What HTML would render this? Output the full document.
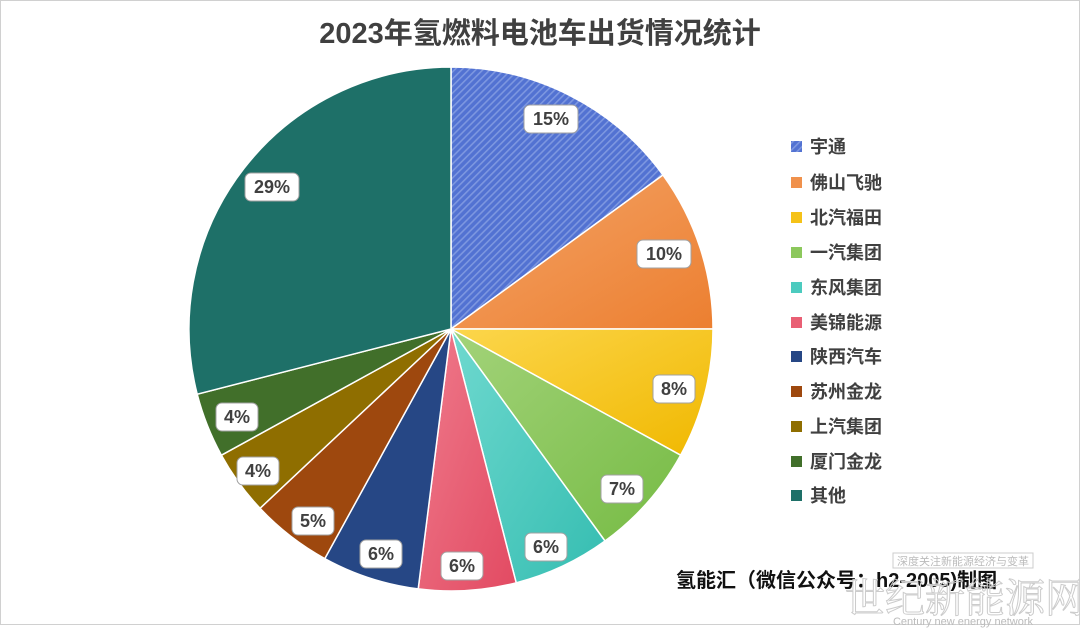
<!DOCTYPE html>
<html><head><meta charset="utf-8"><style>
body{margin:0;background:#fff;}
svg{display:block;font-family:"Liberation Sans","Noto Sans CJK SC",sans-serif;}
</style></head><body>
<svg width="1080" height="629" viewBox="0 0 1080 629">
<defs>
<pattern id="h" width="5" height="5" patternUnits="userSpaceOnUse" patternTransform="rotate(45)">
<rect width="5" height="5" fill="#5272d2"/><rect width="1.6" height="5" fill="#7d97e0"/></pattern>
<linearGradient id="g1" x1="0" y1="0" x2="1" y2="1"><stop offset="0" stop-color="#f4a468"/><stop offset="1" stop-color="#ec7f30"/></linearGradient>
<linearGradient id="g2" x1="0" y1="0" x2="1" y2="1"><stop offset="0" stop-color="#fcd64c"/><stop offset="1" stop-color="#f0b800"/></linearGradient>
<linearGradient id="g3" x1="0" y1="0" x2="1" y2="1"><stop offset="0" stop-color="#a3d37a"/><stop offset="1" stop-color="#76bb44"/></linearGradient>
<linearGradient id="g4" x1="0" y1="0" x2="1" y2="1"><stop offset="0" stop-color="#6fd9cf"/><stop offset="1" stop-color="#35bdb1"/></linearGradient>
<linearGradient id="g5" x1="0" y1="0" x2="1" y2="1"><stop offset="0" stop-color="#ef7b8c"/><stop offset="1" stop-color="#e24a62"/></linearGradient>
</defs>
<rect x="0.5" y="0.5" width="1079" height="624" fill="#fff" stroke="#d0d0d0"/>
<text x="540" y="43" text-anchor="middle" font-size="29" font-weight="bold" fill="#404040">2023年氢燃料电池车出货情况统计</text>
<g stroke="#fff" stroke-width="1.5">
<path d="M451,329 L451,67 A262,262 0 0 1 663,175 Z" fill="url(#h)"/>
<path d="M451,329 L663,175 A262,262 0 0 1 713,329 Z" fill="url(#g1)"/>
<path d="M451,329 L713,329 A262,262 0 0 1 680.6,455.2 Z" fill="url(#g2)"/>
<path d="M451,329 L680.6,455.2 A262,262 0 0 1 605,541 Z" fill="url(#g3)"/>
<path d="M451,329 L605,541 A262,262 0 0 1 516.2,582.8 Z" fill="url(#g4)"/>
<path d="M451,329 L516.2,582.8 A262,262 0 0 1 418.2,588.9 Z" fill="url(#g5)"/>
<path d="M451,329 L418.2,588.9 A262,262 0 0 1 324.8,558.6 Z" fill="#264785"/>
<path d="M451,329 L324.8,558.6 A262,262 0 0 1 260,508.3 Z" fill="#9e480e"/>
<path d="M451,329 L260,508.3 A262,262 0 0 1 221.4,455.2 Z" fill="#8f6e00"/>
<path d="M451,329 L221.4,455.2 A262,262 0 0 1 197.2,394.2 Z" fill="#416f2a"/>
<path d="M451,329 L197.2,394.2 A262,262 0 0 1 451,67 Z" fill="#1e7068"/>
</g>
<g font-size="18" font-weight="bold" fill="#404040" text-anchor="middle">
<g stroke="#a0a0a0" fill="#fff" stroke-width="1">
<rect x="524" y="105" width="54" height="28" rx="6"/>
<rect x="637" y="240" width="54" height="28" rx="6"/>
<rect x="653" y="375" width="42" height="28" rx="6"/>
<rect x="601" y="475" width="42" height="28" rx="6"/>
<rect x="525" y="533" width="42" height="28" rx="6"/>
<rect x="441" y="552" width="42" height="28" rx="6"/>
<rect x="360" y="540" width="42" height="28" rx="6"/>
<rect x="292" y="507" width="42" height="28" rx="6"/>
<rect x="237" y="457" width="42" height="28" rx="6"/>
<rect x="216" y="403" width="42" height="28" rx="6"/>
<rect x="245" y="173" width="54" height="28" rx="6"/>
</g>
<text x="551" y="125">15%</text><text x="664" y="260">10%</text><text x="674" y="395">8%</text>
<text x="622" y="495">7%</text><text x="546" y="553">6%</text><text x="462" y="572">6%</text>
<text x="381" y="560">6%</text><text x="313" y="527">5%</text><text x="258" y="477">4%</text>
<text x="237" y="423">4%</text><text x="272" y="193">29%</text>
</g>
<g font-size="18" font-weight="bold" fill="#404040">
<rect x="791" y="141" width="11" height="11" fill="url(#h)"/><text x="810" y="153">宇通</text>
<rect x="791" y="177" width="11" height="11" fill="#f0914c"/><text x="810" y="189">佛山飞驰</text>
<rect x="791" y="212" width="11" height="11" fill="#f5c218"/><text x="810" y="224">北汽福田</text>
<rect x="791" y="247" width="11" height="11" fill="#8cc85c"/><text x="810" y="259">一汽集团</text>
<rect x="791" y="282" width="11" height="11" fill="#4ccbbf"/><text x="810" y="294">东风集团</text>
<rect x="791" y="317" width="11" height="11" fill="#e95f74"/><text x="810" y="329">美锦能源</text>
<rect x="791" y="351" width="11" height="11" fill="#264785"/><text x="810" y="363">陕西汽车</text>
<rect x="791" y="386" width="11" height="11" fill="#9e480e"/><text x="810" y="398">苏州金龙</text>
<rect x="791" y="421" width="11" height="11" fill="#8f6e00"/><text x="810" y="433">上汽集团</text>
<rect x="791" y="456" width="11" height="11" fill="#416f2a"/><text x="810" y="468">厦门金龙</text>
<rect x="791" y="490" width="11" height="11" fill="#1e7068"/><text x="810" y="502">其他</text>
</g>
<text x="676" y="587" font-size="20" font-weight="bold" fill="#111">氢能汇（微信公众号：h2-2005)制图</text>
<rect x="893" y="553" width="140" height="15" fill="none" stroke="#ccc"/>
<text x="963" y="565" font-size="11" fill="#bbb" text-anchor="middle">深度关注新能源经济与变革</text>
<text x="965" y="612" font-size="40" fill="none" stroke="#ccc" stroke-width="1" text-anchor="middle" font-family="Liberation Serif,Noto Serif CJK SC,serif">世纪新能源网</text>
<text x="963" y="625" font-size="11" fill="#bbb" text-anchor="middle">Century new energy network</text>
</svg>
</body></html>
